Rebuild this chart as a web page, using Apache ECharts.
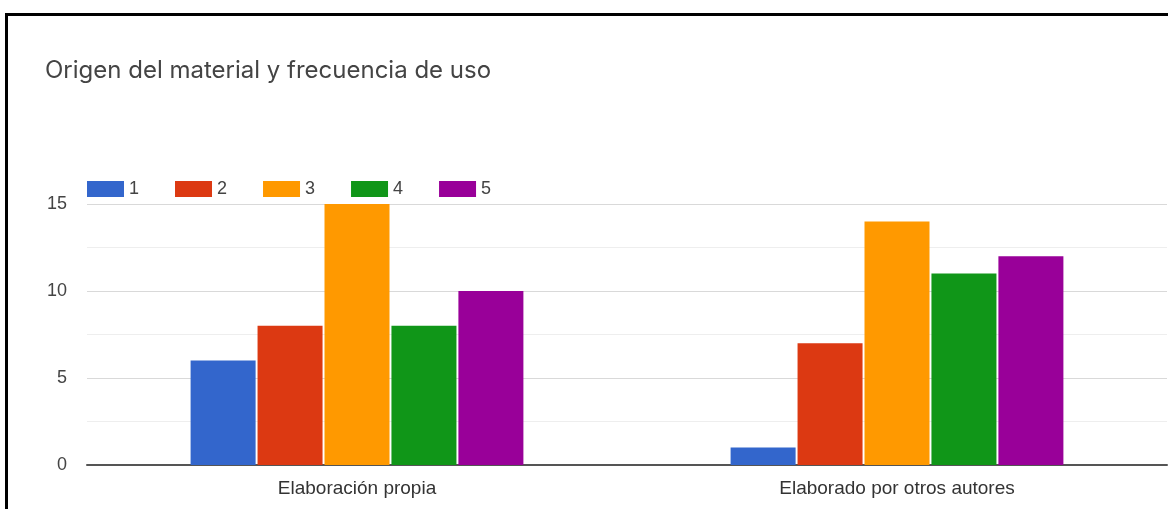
<!DOCTYPE html>
<html>
<head>
<meta charset="utf-8">
<script src="https://cdn.jsdelivr.net/npm/echarts@6/dist/echarts.min.js"></script>
<style>
html,body{margin:0;padding:0;background:#fff;}
#chart{position:absolute;left:0;top:0;width:1168px;height:509px;}
#frame{position:absolute;left:5px;top:13px;width:1170px;height:500px;border-left:3px solid #000;border-top:3px solid #000;pointer-events:none;}
</style>
</head>
<body>
<div id="chart"></div>
<div id="frame"></div>
<script>
const title = 'Origen del material y frecuencia de uso';
const categories = ['Elaboración propia', 'Elaborado por otros autores'];
const seriesNames = ['1', '2', '3', '4', '5'];
const values1 = [6, 1];
const values2 = [8, 7];
const values3 = [15, 14];
const values4 = [8, 11];
const values5 = [10, 12];
const colors = ['#3366cc', '#dc3912', '#ff9900', '#109618', '#990099'];

const allValues = [values1, values2, values3, values4, values5];
const sans = '"Liberation Sans", Arial, sans-serif';
const chart = echarts.init(document.getElementById('chart'));
chart.setOption({
  animation: false,
  color: colors,
  title: {
    text: title,
    left: 45, top: 59, padding: 0,
    textStyle: {fontFamily: 'Inter', fontSize: 24, fontWeight: 'normal', color: '#444'}
  },
  legend: {
    left: 87, top: 180, padding: 0,
    icon: 'rect', itemWidth: 37, itemHeight: 16, itemGap: 36,
    textStyle: {fontFamily: sans, fontSize: 18, color: '#444'}
  },
  grid: {left: 87, right: 1, top: 204, bottom: 44},
  xAxis: {
    type: 'category', data: categories,
    axisTick: {show: false},
    axisLine: {lineStyle: {color: '#555', width: 2}},
    axisLabel: {margin: 14, fontFamily: sans, fontSize: 19, color: '#333'}
  },
  yAxis: {
    type: 'value', min: 0, max: 15, interval: 5,
    axisLine: {show: false}, axisTick: {show: false},
    axisLabel: {margin: 20, fontFamily: sans, fontSize: 18, color: '#444'},
    splitLine: {lineStyle: {color: '#d9d9d9', width: 1}},
    minorTick: {show: false, splitNumber: 2},
    minorSplitLine: {show: true, lineStyle: {color: '#eeeeee', width: 1}}
  },
  series: seriesNames.map((n, i) => ({
    name: n, type: 'bar', data: allValues[i],
    barWidth: 65, barGap: '3%'
  }))
});
</script>
</body>
</html>
